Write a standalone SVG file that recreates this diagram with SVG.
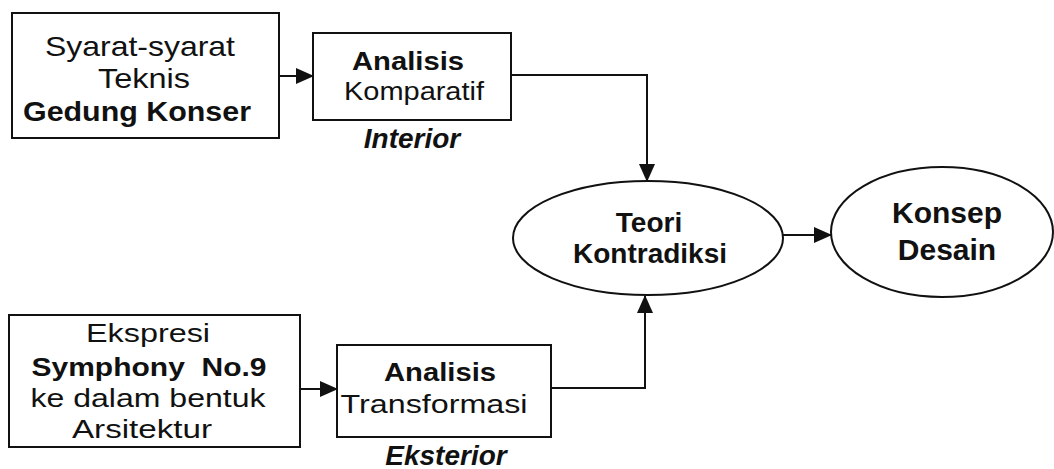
<svg xmlns="http://www.w3.org/2000/svg" width="1054" height="469" viewBox="0 0 1054 469">
<defs>
<marker id="ah" markerUnits="userSpaceOnUse" markerWidth="18" markerHeight="16" refX="17" refY="8" orient="auto">
<path d="M0,0 L18,8 L0,16 Z" fill="#111"/>
</marker>
<style>
.box{fill:#fff;stroke:#111;stroke-width:2}
.con{fill:none;stroke:#111;stroke-width:2}
text{font-family:"Liberation Sans",Arial,sans-serif;fill:#111;text-anchor:middle}
.r{font-size:28px}
.b{font-size:27px;font-weight:bold}
.r2{font-size:26px}
.b2{font-size:26px;font-weight:bold}
.e{font-size:28px;font-weight:bold}
.bi{font-size:28px;font-weight:bold;font-style:italic}
</style>
</defs>
<rect width="1054" height="469" fill="#fff"/>
<g id="connectors">
<line class="con" x1="279" y1="76" x2="313" y2="76" marker-end="url(#ah)"/>
<polyline class="con" points="511,75 647,75 647,181" marker-end="url(#ah)"/>
<line class="con" x1="783" y1="235" x2="831" y2="235" marker-end="url(#ah)"/>
<line class="con" x1="300" y1="389" x2="337" y2="389" marker-end="url(#ah)"/>
<polyline class="con" points="551,388 645,388 645,296" marker-end="url(#ah)"/>
</g>
<g id="syarat">
<rect class="box" x="12" y="13" width="267" height="125"/>
<text class="r" x="140" y="56" textLength="190" lengthAdjust="spacingAndGlyphs">Syarat-syarat</text>
<text class="r" x="144" y="88" textLength="92" lengthAdjust="spacingAndGlyphs">Teknis</text>
<text class="b" x="137" y="121" textLength="228" lengthAdjust="spacingAndGlyphs">Gedung Konser</text>
</g>
<g id="komparatif">
<rect class="box" x="313" y="33" width="198" height="87"/>
<text class="b2" x="408" y="70" textLength="112" lengthAdjust="spacingAndGlyphs">Analisis</text>
<text class="r2" x="414" y="100" textLength="140" lengthAdjust="spacingAndGlyphs">Komparatif</text>
<text class="bi" x="412" y="148">Interior</text>
</g>
<g id="teori">
<ellipse class="box" cx="648" cy="238" rx="135" ry="57"/>
<text class="e" x="649" y="232">Teori</text>
<text class="e" x="650" y="263">Kontradiksi</text>
</g>
<g id="konsep">
<ellipse class="box" cx="942" cy="232" rx="111" ry="65"/>
<text class="e" style="font-size:30px" x="947" y="223">Konsep</text>
<text class="e" style="font-size:30px" x="947" y="260">Desain</text>
</g>
<g id="ekspresi">
<rect class="box" x="9" y="315" width="291" height="132"/>
<text class="r2" x="148" y="342" textLength="124" lengthAdjust="spacingAndGlyphs">Ekspresi</text>
<text class="b2" x="149" y="376" textLength="235" lengthAdjust="spacingAndGlyphs" xml:space="preserve">Symphony  No.9</text>
<text class="r2" x="148" y="407" textLength="235" lengthAdjust="spacingAndGlyphs">ke dalam bentuk</text>
<text class="r2" x="142" y="438" textLength="140" lengthAdjust="spacingAndGlyphs">Arsitektur</text>
</g>
<g id="transformasi">
<rect class="box" x="337" y="345" width="214" height="92"/>
<text class="b2" x="440" y="381" textLength="112" lengthAdjust="spacingAndGlyphs">Analisis</text>
<text class="r2" x="434" y="413" textLength="187" lengthAdjust="spacingAndGlyphs">Transformasi</text>
<text class="bi" x="446" y="465">Eksterior</text>
</g>
</svg>
